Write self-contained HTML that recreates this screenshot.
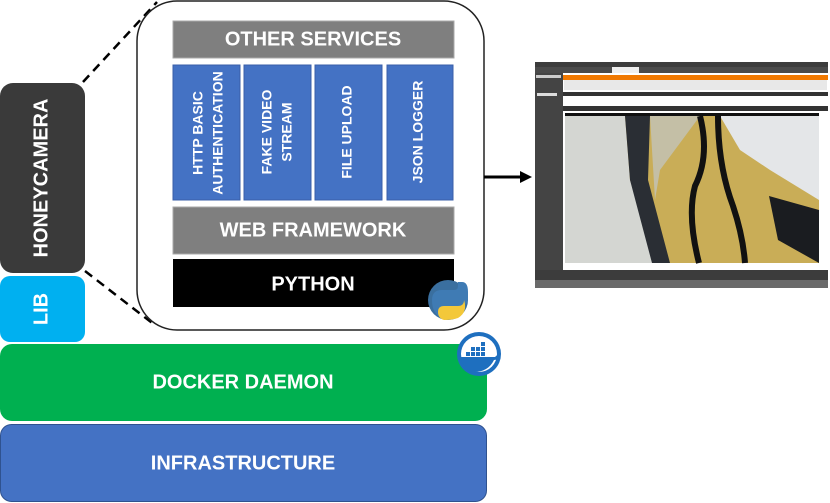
<!DOCTYPE html>
<html><head><meta charset="utf-8"><style>
html,body{margin:0;padding:0;background:#fff;width:830px;height:503px;overflow:hidden}
svg{display:block}
text{font-family:"Liberation Sans",sans-serif;font-weight:bold;fill:#fff}
</style></head><body>
<svg width="830" height="503" viewBox="0 0 830 503" xmlns="http://www.w3.org/2000/svg">
<line x1="83" y1="82" x2="157" y2="2" stroke="#000" stroke-width="2.5" stroke-dasharray="9,6"/>
<line x1="85" y1="271" x2="156" y2="326" stroke="#000" stroke-width="2.5" stroke-dasharray="9,6"/>
<rect x="0" y="83" width="85" height="190" rx="13" fill="#3a3a3a"/>
<text x="42" y="178" font-size="20" text-anchor="middle" dominant-baseline="middle" transform="rotate(-90 42 178)">HONEYCAMERA</text>
<rect x="0" y="276" width="85" height="66" rx="10" fill="#00b0f0"/>
<text x="42" y="309" font-size="20" text-anchor="middle" dominant-baseline="middle" transform="rotate(-90 42 309)">LIB</text>
<rect x="137" y="1" width="347" height="329" rx="40" fill="#fff" stroke="#222" stroke-width="1.5"/>
<rect x="173" y="21" width="281" height="37" fill="#7f7f7f" stroke="#aaa" stroke-width="1"/>
<text x="313" y="40" font-size="20" text-anchor="middle" dominant-baseline="middle">OTHER SERVICES</text>
<g fill="#4472c4" stroke="#3a5fa8" stroke-width="1">
<rect x="173" y="65" width="67" height="135"/>
<rect x="244" y="65" width="67" height="135"/>
<rect x="315" y="65" width="67" height="135"/>
<rect x="387" y="65" width="66" height="135"/>
</g>
<g font-size="14">
<text transform="translate(199,133) rotate(-90)" text-anchor="middle" dominant-baseline="middle">HTTP BASIC</text>
<text transform="translate(219,133) rotate(-90)" text-anchor="middle" dominant-baseline="middle">AUTHENTICATION</text>
<text transform="translate(268,132) rotate(-90)" text-anchor="middle" dominant-baseline="middle">FAKE VIDEO</text>
<text transform="translate(288,132) rotate(-90)" text-anchor="middle" dominant-baseline="middle">STREAM</text>
<text transform="translate(348,132) rotate(-90)" text-anchor="middle" dominant-baseline="middle">FILE UPLOAD</text>
<text transform="translate(419,132) rotate(-90)" text-anchor="middle" dominant-baseline="middle">JSON LOGGER</text>
</g>
<rect x="173" y="207" width="281" height="47" fill="#7f7f7f" stroke="#aaa" stroke-width="1"/>
<text x="313" y="231" font-size="20" text-anchor="middle" dominant-baseline="middle">WEB FRAMEWORK</text>
<rect x="173" y="259" width="281" height="48" fill="#000"/>
<text x="313" y="285" font-size="20" text-anchor="middle" dominant-baseline="middle">PYTHON</text>
<circle cx="448" cy="300" r="20" fill="#3a6f9f"/>
<path d="M432 300 q0-10 10-10 h12 q4 0 4-4 v-4 h4 q6 0 6 10 v6 q0 8-8 8 h-12 q-6 0-6 6 v6 q-10-4-10-18z" fill="#3f7bb4"/>
<path d="M444 306 h14 q6 0 6-6 q4 12-6 18 q-6 2-14 2 q-6-2-6-8 q0-6 6-6z" fill="#f3c83a"/>
<rect x="0" y="344" width="487" height="77" rx="12" fill="#00b050"/>
<text x="243" y="383" font-size="20" text-anchor="middle" dominant-baseline="middle">DOCKER DAEMON</text>
<circle cx="479" cy="354" r="22" fill="#1e6fbf"/>
<circle cx="479" cy="354" r="18" fill="#fff"/>
<path d="M461 357 h34 q4-4 5-2 q-2 5-6 5 q-6 12-20 12 q-12 0-13-15z" fill="#1e6fbf"/>
<g fill="#1e6fbf"><rect x="466" y="352" width="4" height="4"/><rect x="471" y="352" width="4" height="4"/><rect x="476" y="352" width="4" height="4"/><rect x="481" y="352" width="4" height="4"/><rect x="471" y="347" width="4" height="4"/><rect x="476" y="347" width="4" height="4"/><rect x="481" y="347" width="4" height="4"/><rect x="481" y="342" width="4" height="4"/></g>
<rect x="0.5" y="424.5" width="486" height="77" rx="11" fill="#4472c4" stroke="#2f528f" stroke-width="1"/>
<text x="243" y="464" font-size="20" text-anchor="middle" dominant-baseline="middle">INFRASTRUCTURE</text>
<line x1="484" y1="177" x2="522" y2="177" stroke="#000" stroke-width="3"/>
<polygon points="520,171 532,177 520,183" fill="#000"/>
<rect x="535" y="62" width="293" height="226" fill="#555"/>
<rect x="535" y="62" width="293" height="5" fill="#3c3c3c"/>
<rect x="535" y="67" width="293" height="6" fill="#4a4a4a"/>
<rect x="612" y="67" width="27" height="6" fill="#eee"/>
<rect x="535" y="73" width="28" height="205" fill="#444"/>
<rect x="536" y="75" width="25" height="3" fill="#ccc"/>
<rect x="537" y="93" width="20" height="3" fill="#ddd"/>
<rect x="563" y="73" width="265" height="197" fill="#fff"/>
<rect x="563" y="75" width="265" height="5" fill="#f07800"/>
<rect x="564" y="80" width="263" height="10" fill="#e8e8e8"/>
<rect x="563" y="92" width="265" height="4" fill="#333"/>
<rect x="563" y="106" width="265" height="5" fill="#333"/>
<rect x="565" y="113" width="254" height="3" fill="#111"/>
<rect x="565" y="116" width="254" height="147" fill="#c9ad57"/>
<polygon points="565,116 625,116 630,180 660,263 565,263" fill="#d4d6d2"/>
<polygon points="625,116 650,116 648,180 670,263 652,263 630,180" fill="#2a2e34"/>
<polygon points="650,116 700,116 660,170 655,200" fill="#c4bfa6"/>
<polygon points="720,116 819,116 819,200 770,170 740,150" fill="#e4e6e8"/>
<polygon points="769,196 819,210 819,263 778,240" fill="#1a1c20"/>
<path d="M700 116 q10 40 -5 70 q-8 30 4 77" stroke="#111" stroke-width="6" fill="none"/>
<path d="M718 116 q0 50 15 90 q10 30 12 57" stroke="#111" stroke-width="6" fill="none"/>
<rect x="535" y="270" width="293" height="10" fill="#3c3c3c"/>
<rect x="535" y="280" width="293" height="8" fill="#6a6a6a"/>
</svg>
</body></html>
